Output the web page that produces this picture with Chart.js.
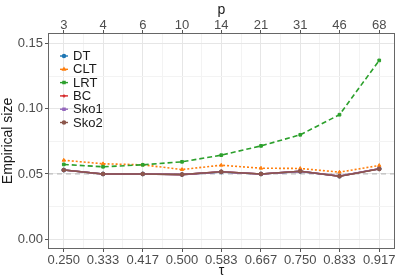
<!DOCTYPE html>
<html>
<head>
<meta charset="utf-8">
<script src="https://cdn.jsdelivr.net/npm/chart.js@4.4.1/dist/chart.umd.min.js"></script>
<style>
  body { margin: 0; background: #fff; }
</style>
</head>
<body>
<canvas id="sizeChart" width="400" height="280"></canvas>
<script>
// tau on the bottom axis, p on the top axis
const tauValues = [0.250, 0.333, 0.417, 0.500, 0.583, 0.667, 0.750, 0.833, 0.917];
const tauLabels = ['0.250', '0.333', '0.417', '0.500', '0.583', '0.667', '0.750', '0.833', '0.917'];
const pLabels = ['3', '4', '6', '10', '14', '21', '31', '46', '68'];
const yTicks = [0, 0.05, 0.10, 0.15];
const nominalLevel = 0.05;

// empirical size per method
const dtSize   = [0.053, 0.050, 0.050, 0.0495, 0.0515, 0.050, 0.052, 0.0483, 0.054];
const cltSize  = [0.0605, 0.0578, 0.057, 0.0534, 0.0567, 0.0544, 0.0542, 0.0514, 0.0565];
const lrtSize  = [0.0573, 0.0555, 0.057, 0.0593, 0.0644, 0.0715, 0.080, 0.0954, 0.137];
const bcSize   = [0.053, 0.050, 0.050, 0.0495, 0.0517, 0.050, 0.0521, 0.0483, 0.054];
const sko1Size = [0.053, 0.050, 0.050, 0.0496, 0.0516, 0.050, 0.052, 0.0484, 0.054];
const sko2Size = [0.053, 0.050, 0.050, 0.0496, 0.0517, 0.050, 0.0521, 0.0483, 0.0538];

const pad = (tauValues[tauValues.length - 1] - tauValues[0]) * 0.05;
const xMin = tauValues[0] - pad;
const xMax = tauValues[tauValues.length - 1] + pad;

function series(label, values, color, dash, style, order) {
  return {
    label: label,
    data: values.map((v, i) => ({ x: tauValues[i], y: v })),
    borderColor: color,
    backgroundColor: color,
    borderWidth: 1.6,
    borderDash: dash,
    pointStyle: style,
    pointRadius: 1.9,
    pointBorderWidth: 1,
    fill: false,
    order: order
  };
}

const datasets = [
  series('DT', dtSize, '#1f77b4', [], 'circle', 5),
  series('CLT', cltSize, '#ff7f0e', [2, 2], 'triangle', 4),
  series('LRT', lrtSize, '#2ca02c', [5, 3], 'rect', 3),
  series('BC', bcSize, '#d62728', [], 'cross', 2),
  series('Sko1', sko1Size, '#9467bd', [], 'rect', 1),
  series('Sko2', sko2Size, '#8c564b', [], 'circle', 0)
];

function isMajor(list, v) {
  return list.some(t => Math.abs(t - v) < 1e-6);
}

function withMinor(list) {
  const out = [];
  list.forEach((v, i) => {
    out.push({ value: v });
    if (i < list.length - 1) out.push({ value: (v + list[i + 1]) / 2 });
  });
  return out;
}

const gridColor = ctx => isMajor(ctx.scale.axis === 'y' ? yTicks : tauValues, ctx.tick.value) ? '#e6e6e6' : '#f3f3f3';
const tickColor = ctx => isMajor(ctx.scale.axis === 'y' ? yTicks : tauValues, ctx.tick.value) ? '#555' : 'rgba(0,0,0,0)';
const tickFont = { family: 'Liberation Sans', size: 13 };
const titleFont = { family: 'Liberation Sans', size: 14 };

const extras = {
  id: 'extras',
  beforeDatasetsDraw(chart) {
    const { ctx, chartArea, scales } = chart;
    const y = scales.y.getPixelForValue(nominalLevel);
    ctx.save();
    ctx.strokeStyle = '#bdbdbd';
    ctx.lineWidth = 1.2;
    ctx.setLineDash([5, 4]);
    ctx.beginPath();
    ctx.moveTo(chartArea.left, y);
    ctx.lineTo(chartArea.right, y);
    ctx.stroke();
    ctx.restore();
  },
  afterDraw(chart) {
    const { ctx, chartArea, scales } = chart;
    ctx.save();
    ctx.strokeStyle = '#666';
    ctx.lineWidth = 1;
    ctx.strokeRect(chartArea.left + 0.5, chartArea.top + 0.5, chartArea.width - 1, chartArea.height - 1);
    // p labels on the top axis
    ctx.fillStyle = '#4d4d4d';
    ctx.font = '13px "Liberation Sans"';
    ctx.textAlign = 'center';
    ctx.textBaseline = 'alphabetic';
    tauValues.forEach((v, i) => {
      ctx.fillText(pLabels[i], scales.x2.getPixelForValue(v), chartArea.top - 4);
    });
    // legend inside the panel
    ctx.textAlign = 'left';
    ctx.textBaseline = 'middle';
    let ly = chartArea.top + 23;
    chart.data.datasets.forEach(ds => {
      ctx.strokeStyle = ds.borderColor;
      ctx.lineWidth = 1.4;
      ctx.setLineDash([]);
      ctx.beginPath();
      ctx.moveTo(60, ly);
      ctx.lineTo(68, ly);
      ctx.stroke();
      Chart.helpers.drawPoint(ctx, { pointStyle: ds.pointStyle, radius: 1.5, borderWidth: 1 }, 64, ly);
      ctx.fillStyle = ds.borderColor;
      ctx.fill();
      ctx.fillStyle = '#1a1a1a';
      ctx.fillText(ds.label, 73, ly + 0.5);
      ly += 13.3;
    });
    ctx.restore();
  }
};

new Chart(document.getElementById('sizeChart'), {
  type: 'line',
  data: { datasets: datasets },
  plugins: [extras],
  options: {
    responsive: false,
    animation: false,
    layout: { padding: { left: 0, right: 4, top: 0, bottom: 0 } },
    plugins: { legend: { display: false }, tooltip: { enabled: false } },
    scales: {
      x: {
        type: 'linear',
        position: 'bottom',
        min: xMin,
        max: xMax,
        afterBuildTicks: scale => { scale.ticks = withMinor(tauValues); },
        afterFit: scale => { scale.height = 31; },
        ticks: {
          autoSkip: false,
          maxRotation: 0,
          padding: 1,
          color: '#4d4d4d',
          font: tickFont,
          callback: v => { const i = tauValues.findIndex(t => Math.abs(t - v) < 1e-6); return i >= 0 ? tauLabels[i] : ''; }
        },
        grid: { color: gridColor, tickColor: tickColor, tickLength: 3 },
        border: { display: false },
        title: { display: true, text: 'τ', color: '#1a1a1a', font: titleFont, padding: { top: 0, bottom: 0 } }
      },
      x2: {
        type: 'linear',
        position: 'top',
        min: xMin,
        max: xMax,
        afterBuildTicks: scale => { scale.ticks = tauValues.map(v => ({ value: v })); },
        afterFit: scale => { scale.height = 33; },
        ticks: { display: false },
        grid: { drawOnChartArea: false, color: '#555', tickLength: 3 },
        border: { display: false },
        title: { display: true, text: 'p', color: '#1a1a1a', font: titleFont, padding: { top: 2, bottom: 0 } }
      },
      y: {
        min: -0.0075,
        max: 0.158,
        afterBuildTicks: scale => { scale.ticks = withMinor(yTicks); },
        afterFit: scale => { scale.width = 48; },
        ticks: {
          color: '#4d4d4d',
          font: tickFont,
          padding: 2,
          callback: v => isMajor(yTicks, v) ? v.toFixed(2) : ''
        },
        grid: { color: gridColor, tickColor: tickColor, tickLength: 3 },
        border: { display: false },
        title: { display: true, text: 'Empirical size', color: '#1a1a1a', font: titleFont, padding: { top: 0, bottom: 2 } }
      }
    }
  }
});
</script>
</body>
</html>
